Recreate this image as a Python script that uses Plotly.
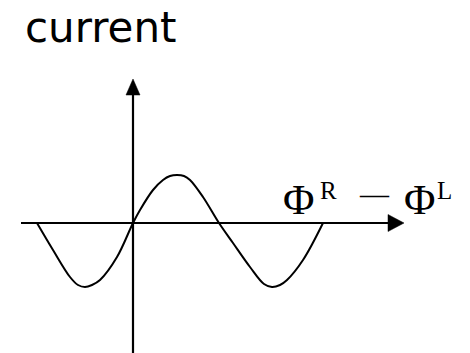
import plotly.graph_objects as go

# Curve samples (phase difference vs current), origin at the axis crossing
phase = [-96, -80, -63, -55, -48, -41, -33, -16, 0, 7, 20, 30, 37, 44, 51, 57, 70, 86,
         100, 117, 131, 139, 147, 154, 170, 190]
current = [0, -27, -54, -62, -64, -62, -57, -34, 0, 13, 33, 43, 47, 48, 47, 43, 26, 0,
           -20, -44, -61, -64, -62, -57, -37, 0]

# Axis extents
x_min, x_max = -112, 271
y_min, y_max = -130, 144
head_len_y, head_half_y = 16, 7
head_len_x, head_half_x = 16, 8.5

fig = go.Figure()

# axes lines
fig.add_trace(go.Scatter(x=[x_min, x_max - head_len_x + 2], y=[0, 0], mode="lines",
                         line=dict(color="black", width=2.2), hoverinfo="skip"))
fig.add_trace(go.Scatter(x=[0, 0], y=[y_min, y_max - head_len_y + 2], mode="lines",
                         line=dict(color="black", width=2.2), hoverinfo="skip"))
# arrowheads
fig.add_trace(go.Scatter(x=[x_max, x_max - head_len_x, x_max - head_len_x, x_max],
                         y=[0, head_half_x, -head_half_x, 0], mode="lines", fill="toself",
                         fillcolor="black", line=dict(color="black", width=0.5), hoverinfo="skip"))
fig.add_trace(go.Scatter(x=[0, -head_half_y, head_half_y, 0],
                         y=[y_max, y_max - head_len_y, y_max - head_len_y, y_max], mode="lines",
                         fill="toself", fillcolor="black", line=dict(color="black", width=0.5),
                         hoverinfo="skip"))
# curve
fig.add_trace(go.Scatter(x=phase, y=current, mode="lines", line=dict(color="black", width=2, shape="spline", smoothing=1),
                         hoverinfo="skip"))

serif = "Liberation Serif, Times New Roman, serif"
ann = [
    dict(text="current", x=-110, y=196, xanchor="left", yanchor="middle",
         font=dict(family="DejaVu Sans", size=42, color="black")),
    dict(text="Φ", x=148, y=24, xanchor="left", yanchor="middle",
         font=dict(family=serif, size=43, color="black")),
    dict(text="R", x=185, y=33, xanchor="left", yanchor="middle",
         font=dict(family=serif, size=25, color="black")),
    dict(text="—", x=224, y=29, xanchor="left", yanchor="middle",
         font=dict(family=serif, size=29, color="black")),
    dict(text="Φ", x=269, y=24, xanchor="left", yanchor="middle",
         font=dict(family=serif, size=43, color="black")),
    dict(text="L", x=302, y=33, xanchor="left", yanchor="middle",
         font=dict(family=serif, size=25, color="black")),
]
for a in ann:
    fig.add_annotation(showarrow=False, xref="x", yref="y", **a)

# page body has an 8px margin: the figure sits at (8, 8) in the 470x353 window
fig.update_layout(width=462, height=345, margin=dict(l=0, r=0, t=0, b=0),
                  paper_bgcolor="white", plot_bgcolor="white", showlegend=False)
fig.update_xaxes(range=[-125, 337], visible=False, fixedrange=True)
fig.update_yaxes(range=[-130, 215], visible=False, fixedrange=True)

fig.write_html("out.html")
